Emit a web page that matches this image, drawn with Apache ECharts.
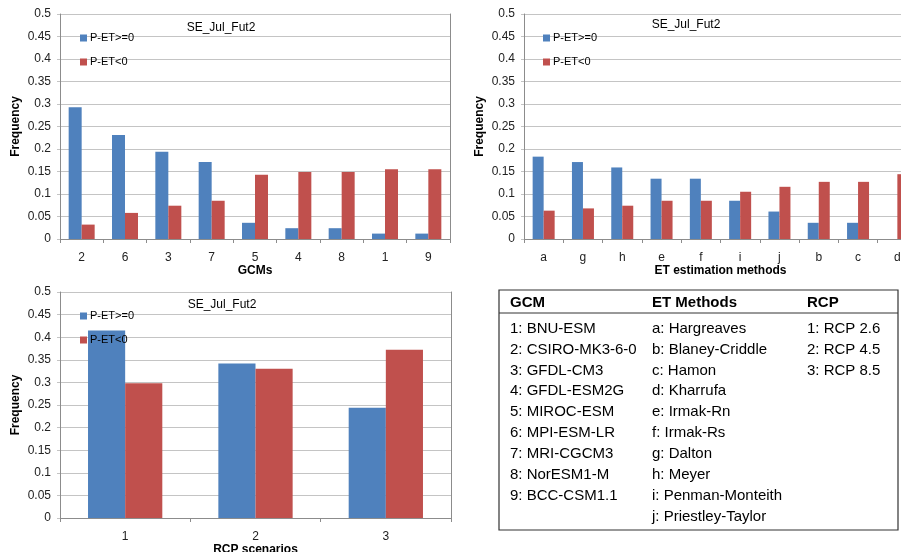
<!DOCTYPE html>
<html>
<head>
<meta charset="utf-8">
<script src="https://cdn.jsdelivr.net/npm/echarts@6/dist/echarts.min.js"></script>
<style>
html,body{margin:0;padding:0;background:#fff;}
#main{width:901px;height:552px;}
</style>
</head>
<body>
<div id="main"></div>
<script>
// ---- data ----
const seriesNames = ['P-ET>=0', 'P-ET<0'];
const chartTitle = 'SE_Jul_Fut2';

const gcmCats = ['2','6','3','7','5','4','8','1','9'];
const gcmPos  = [0.293,0.231,0.194,0.171,0.036,0.024,0.024,0.012,0.012];
const gcmNeg  = [0.032,0.058,0.074,0.085,0.143,0.149,0.149,0.155,0.155];

const etCats = ['a','g','h','e','f','i','j','b','c','d'];
const etPos  = [0.183,0.171,0.159,0.134,0.134,0.085,0.061,0.036,0.036,0];
const etNeg  = [0.063,0.068,0.074,0.085,0.085,0.105,0.116,0.127,0.127,0.144];

const rcpCats = ['1','2','3'];
const rcpPos  = [0.415,0.342,0.244];
const rcpNeg  = [0.298,0.330,0.372];

const axisNames = ['GCMs', 'ET estimation methods', 'RCP scenarios'];

const tableHeaders = ['GCM', 'ET Methods', 'RCP'];
const gcmList = ['1: BNU-ESM','2: CSIRO-MK3-6-0','3: GFDL-CM3','4: GFDL-ESM2G','5: MIROC-ESM','6: MPI-ESM-LR','7: MRI-CGCM3','8: NorESM1-M','9: BCC-CSM1.1'];
const etList = ['a: Hargreaves','b: Blaney-Criddle','c: Hamon','d: Kharrufa','e: Irmak-Rn','f: Irmak-Rs','g: Dalton','h: Meyer','i: Penman-Monteith','j: Priestley-Taylor'];
const rcpList = ['1: RCP 2.6','2: RCP 4.5','3: RCP 8.5'];

// ---- styles ----
const FONT = 'Liberation Sans, Arial, sans-serif';
const BLUE = '#4F81BD', RED = '#C0504D';
const GRIDC = '#c4c4c4', AXISC = '#8c8c8c';

const grids = [
  {left: 60, top: 14, width: 390, height: 225, outerBoundsMode: 'none', containLabel: false},
  {left: 524, top: 14, width: 393, height: 225, outerBoundsMode: 'none', containLabel: false},
  {left: 60, top: 292, width: 391, height: 226, outerBoundsMode: 'none', containLabel: false}
];
const cats = [gcmCats, etCats, rcpCats];
const gaps = ['40%', '44%', '43%'];
const posData = [gcmPos, etPos, rcpPos];
const negData = [gcmNeg, etNeg, rcpNeg];

const xAxes = [], yAxes = [], series = [], titles = [], legends = [];
const titlePos = [{x: 221, y: 22}, {x: 686, y: 19}, {x: 222, y: 299}];
const legendPos = [{x: 75, y: 26}, {x: 538, y: 26}, {x: 75, y: 304}];

for (let i = 0; i < 3; i++) {
  xAxes.push({
    type: 'category', gridIndex: i, data: cats[i],
    name: axisNames[i], nameLocation: 'middle', nameGap: 25,
    nameTextStyle: {fontFamily: FONT, fontSize: 12, fontWeight: 'bold', color: '#000'},
    axisLine: {lineStyle: {color: AXISC}},
    axisTick: {show: true, length: 4, lineStyle: {color: AXISC}},
    axisLabel: {fontFamily: FONT, fontSize: 12, color: '#222', margin: 13},
    splitLine: {show: false}
  });
  yAxes.push({
    type: 'value', gridIndex: i, min: 0, max: 0.5, interval: 0.05,
    name: 'Frequency', nameLocation: 'middle', nameGap: 38, nameRotate: 90,
    nameTextStyle: {fontFamily: FONT, fontSize: 12, fontWeight: 'bold', color: '#000'},
    axisLine: {show: true, lineStyle: {color: AXISC}},
    axisTick: {show: true, length: 3, lineStyle: {color: GRIDC}},
    axisLabel: {fontFamily: FONT, fontSize: 12, color: '#222', margin: 9},
    splitLine: {show: true, lineStyle: {color: GRIDC, width: 1}}
  });
  series.push({
    type: 'bar', name: seriesNames[0], xAxisIndex: i, yAxisIndex: i,
    data: posData[i], barGap: '0%', barCategoryGap: gaps[i],
    itemStyle: {color: BLUE},
    animation: false
  });
  series.push({
    type: 'bar', name: seriesNames[1], xAxisIndex: i, yAxisIndex: i,
    data: negData[i], barGap: '0%', barCategoryGap: gaps[i],
    itemStyle: {color: RED},
    animation: false
  });
  titles.push({
    text: chartTitle, left: titlePos[i].x, top: titlePos[i].y, textAlign: 'center', padding: 0,
    textStyle: {fontFamily: FONT, fontSize: 12, fontWeight: 'normal', color: '#000'}
  });
  legends.push({
    data: seriesNames, orient: 'vertical', left: legendPos[i].x, top: legendPos[i].y,
    icon: 'rect', itemWidth: 7, itemHeight: 7, itemGap: 10,
    textStyle: {fontFamily: FONT, fontSize: 11, color: '#000', lineHeight: 14, padding: [0,0,0,-2]},
    selectedMode: false
  });
}
// right-hand plot borders
for (let i = 0; i < 3; i++) {
  yAxes.push({
    type: 'value', gridIndex: i, min: 0, max: 0.5, position: 'right',
    axisLine: {show: true, lineStyle: {color: AXISC}},
    axisTick: {show: false}, axisLabel: {show: false}, splitLine: {show: false}
  });
}

// legend table (text box)
const tbl = {x: 499, y: 290, w: 399, h: 240};
const colX = [510, 652, 807];
const rowY0 = 328.5, rowStep = 20.95;
const gEls = [];
gEls.push({type: 'rect', shape: {x: tbl.x, y: tbl.y, width: tbl.w, height: tbl.h},
  style: {fill: '#fff', stroke: '#333', lineWidth: 1.2}, z: 10});
gEls.push({type: 'line', shape: {x1: tbl.x, y1: 313, x2: tbl.x + tbl.w, y2: 313},
  style: {stroke: '#333', lineWidth: 1}, z: 11});
tableHeaders.forEach((h, k) => {
  gEls.push({type: 'text', x: colX[k], y: 303, z: 11,
    style: {text: h, font: 'bold 15px ' + FONT, fill: '#000', verticalAlign: 'middle'}});
});
[gcmList, etList, rcpList].forEach((lst, k) => {
  lst.forEach((t, r) => {
    gEls.push({type: 'text', x: colX[k], y: rowY0 + r * rowStep, z: 11,
      style: {text: t, font: '15px ' + FONT, fill: '#000', verticalAlign: 'middle'}});
  });
});

const chart = echarts.init(document.getElementById('main'), null, {renderer: 'canvas'});
chart.setOption({
  backgroundColor: '#fff',
  animation: false,
  title: titles,
  legend: legends,
  grid: grids,
  xAxis: xAxes,
  yAxis: yAxes,
  series: series,
  graphic: gEls
});
</script>
</body>
</html>
